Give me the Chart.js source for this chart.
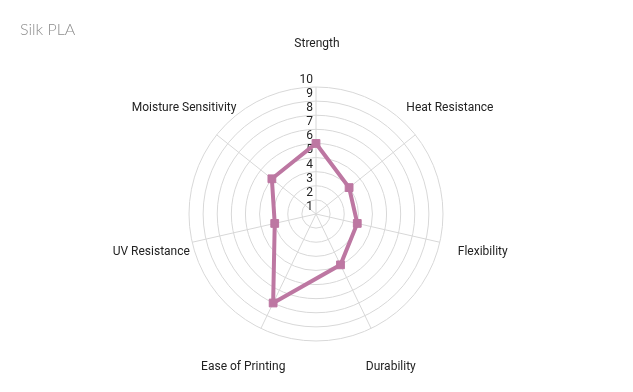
<!DOCTYPE html>
<html>
<head>
<meta charset="utf-8">
<title>Silk PLA</title>
<script src="https://cdn.jsdelivr.net/npm/chart.js@4.4.0/dist/chart.umd.min.js"></script>
<style>
  html, body { margin: 0; padding: 0; background: #fff; }
  #wrap { width: 633px; height: 392px; }
</style>
</head>
<body>
<div id="wrap"><canvas id="radar" width="633" height="392"></canvas></div>
<script>
const categories = ["Strength", "Heat Resistance", "Flexibility", "Durability", "Ease of Printing", "UV Resistance", "Moisture Sensitivity"]
const silkPla = [5, 3, 3, 4, 7, 3, 4]
const tickLabels = [1, 2, 3, 4, 5, 6, 7, 8, 9, 10]
const seriesName = "Silk PLA"

const lineColor = "#bd77a2"
const gridColor = "#d8d8d8"

// tick numbers sit just left of the vertical axis, labels centred round the chart
const radarText = {
    id: "radarText",
    beforeDatasetsDraw(chart) {
        const r = chart.scales.r
        const ctx = chart.ctx
        ctx.save()
        ctx.font = "12px Roboto"
        ctx.fillStyle = "#222"
        ctx.textAlign = "right"
        ctx.textBaseline = "middle"
        for (const t of tickLabels) {
            const d = r.getDistanceFromCenterForValue(t)
            ctx.fillText(String(t), r.xCenter - 3, r.yCenter - d + 7)
        }
        ctx.textAlign = "center"
        categories.forEach((name, i) => {
            const p = r.getPointPosition(i, r.drawingArea + 43)
            ctx.fillText(name, p.x + 1, p.y)
        })
        ctx.restore()
    }
}

const chart = new Chart(document.getElementById("radar"), {
    type: "radar",
    data: {
        labels: categories,
        datasets: [
            {
                label: seriesName,
                data: silkPla,
                borderColor: lineColor,
                backgroundColor: "transparent",
                borderWidth: 4,
                fill: false,
                pointStyle: "rect",
                pointRadius: 5.5,
                pointBackgroundColor: lineColor,
                pointBorderColor: lineColor,
                pointBorderWidth: 1,
            }
        ]
    },
    options: {
        responsive: false,
        animation: false,
        devicePixelRatio: 1,
        layout: {
            padding: { top: 0, bottom: 51, left: 20, right: 20 }
        },
        plugins: {
            legend: { display: false },
            tooltip: { enabled: false },
            title: {
                display: true,
                text: seriesName,
                align: "start",
                color: "#8c8c8c",
                font: { family: "Lato", size: 16, weight: "300" },
                padding: { top: 20, bottom: 47.8 }
            }
        },
        scales: {
            r: {
                min: 0,
                max: 9,
                ticks: { stepSize: 1, display: false },
                grid: { circular: true, color: gridColor, lineWidth: 1 },
                angleLines: { color: gridColor, lineWidth: 1 },
                pointLabels: { display: false }
            }
        }
    },
    plugins: [radarText]
})
</script>
</body>
</html>
